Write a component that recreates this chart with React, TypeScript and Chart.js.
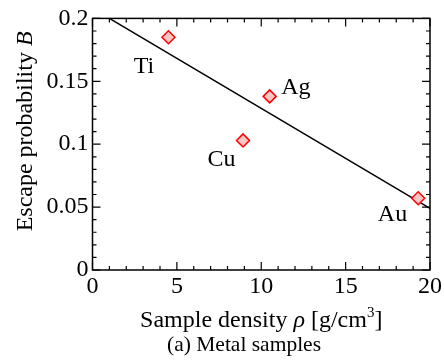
import React, { useEffect, useRef } from "react";
import { Chart, registerables } from "chart.js";

Chart.register(...registerables);

// ---- data ----
const elements = ["Ti", "Ag", "Cu", "Au"];
const density = [4.5, 10.5, 8.92, 19.3];
const escapeProb = [0.185, 0.138, 0.103, 0.057];
const fitX = [1, 20];
const fitY = [0.2, 0.049];
const labelX = [3.05, 12.05, 7.64, 17.78];
const labelY = [0.1565, 0.14, 0.083, 0.0387];
const xTicks = [0, 5, 10, 15, 20];
const yTicks = [0, 0.05, 0.1, 0.15, 0.2];

const FONT = "'Liberation Serif', 'Times New Roman', serif";

const framePlugin = {
  id: "frame",
  afterDatasetsDraw(chart: any) {
    const ctx = chart.ctx;
    const { left, right, top, bottom } = chart.chartArea;
    const xs = chart.scales.x;
    const ys = chart.scales.y;
    ctx.save();
    ctx.strokeStyle = "#000";
    ctx.lineWidth = 1.5;
    ctx.strokeRect(left, top, right - left, bottom - top);
    ctx.lineWidth = 1.2;
    ctx.beginPath();
    for (let v = 0; v <= 20; v += 1) {
      const px = xs.getPixelForValue(v);
      const len = v % 5 === 0 ? 8 : 4;
      ctx.moveTo(px, bottom);
      ctx.lineTo(px, bottom - len);
      ctx.moveTo(px, top);
      ctx.lineTo(px, top + len);
    }
    for (let i = 0; i <= 20; i += 1) {
      const py = ys.getPixelForValue(i / 100);
      const len = i % 5 === 0 ? 8 : 4;
      ctx.moveTo(left, py);
      ctx.lineTo(left + len, py);
      ctx.moveTo(right, py);
      ctx.lineTo(right - len, py);
    }
    ctx.stroke();

    // point labels
    ctx.fillStyle = "#000";
    ctx.font = `24px ${FONT}`;
    ctx.textAlign = "center";
    ctx.textBaseline = "alphabetic";
    elements.forEach((name, i) => {
      ctx.fillText(name, xs.getPixelForValue(labelX[i]), ys.getPixelForValue(labelY[i]));
    });

    // x axis title with italic rho and superscript
    const xParts: [string, string, number][] = [
      ["Sample density ", `24px ${FONT}`, 0],
      ["\u03c1", `italic 24px ${FONT}`, 0],
      [" [g/cm", `24px ${FONT}`, 0],
      ["3", `15px ${FONT}`, -10],
      ["]", `24px ${FONT}`, 0],
    ];
    ctx.textAlign = "left";
    let total = 0;
    xParts.forEach(([t, f]) => {
      ctx.font = f;
      total += ctx.measureText(t).width;
    });
    let cx = (left + right) / 2 - total / 2;
    const baseY = bottom + 57;
    xParts.forEach(([t, f, dy]) => {
      ctx.font = f;
      ctx.fillText(t, cx, baseY + dy);
      cx += ctx.measureText(t).width;
    });

    // y axis title
    const yParts: [string, string][] = [
      ["Escape probability ", `24px ${FONT}`],
      ["B", `italic 24px ${FONT}`],
    ];
    let ytotal = 0;
    yParts.forEach(([t, f]) => {
      ctx.font = f;
      ytotal += ctx.measureText(t).width;
    });
    ctx.save();
    ctx.translate(32, top + 113);
    ctx.rotate(-Math.PI / 2);
    let yx = -ytotal / 2;
    yParts.forEach(([t, f]) => {
      ctx.font = f;
      ctx.fillText(t, yx, 0);
      yx += ctx.measureText(t).width;
    });
    ctx.restore();

    // caption
    ctx.font = `21.5px ${FONT}`;
    ctx.textAlign = "center";
    ctx.fillText("(a) Metal samples", 244, 351);
    ctx.restore();
  },
};

export default function App() {
  const ref = useRef<HTMLCanvasElement>(null);
  useEffect(() => {
    if (!ref.current) return;
    const points = density.map((x, i) => ({ x, y: escapeProb[i] }));
    const line = fitX.map((x, i) => ({ x, y: fitY[i] }));
    const chart = new Chart(ref.current, {
      type: "scatter",
      data: {
        datasets: [
          {
            type: "line",
            data: line,
            borderColor: "#000",
            borderWidth: 1.5,
            pointRadius: 0,
            fill: false,
            order: 2,
          } as any,
          {
            data: points,
            pointStyle: "rectRot",
            pointRadius: 6.5,
            borderColor: "#ff0000",
            backgroundColor: "#f9c6c6",
            borderWidth: 1.5,
            order: 1,
          } as any,
        ],
      },
      options: {
        animation: false,
        responsive: false,
        layout: { padding: { top: 17, right: 12, left: 0, bottom: 0 } },
        plugins: {
          legend: { display: false },
          tooltip: { enabled: false },
        },
        scales: {
          x: {
            type: "linear",
            min: 0,
            max: 20,
            afterBuildTicks: (s: any) => {
              s.ticks = xTicks.map((v) => ({ value: v }));
            },
            ticks: {
              font: { family: FONT, size: 24 },
              color: "#000",
              padding: 2,
              maxRotation: 0,
              callback: (v: any) => String(v),
            },
            grid: { display: false, drawTicks: false },
            border: { display: false },
            afterFit: (s: any) => {
              s.height = 93;
            },
          },
          y: {
            type: "linear",
            min: 0,
            max: 0.2,
            afterBuildTicks: (s: any) => {
              s.ticks = yTicks.map((v) => ({ value: v }));
            },
            ticks: {
              font: { family: FONT, size: 24 },
              color: "#000",
              padding: 4,
              callback: (v: any) => String(v),
            },
            grid: { display: false, drawTicks: false },
            border: { display: false },
            afterFit: (s: any) => {
              s.width = 92.5;
            },
          },
        },
      } as any,
      plugins: [framePlugin],
    });
    return () => chart.destroy();
  }, []);
  return (
    <div style={{ position: "absolute", left: 0, top: 0, width: 444, height: 363, background: "#fff" }}>
      <canvas ref={ref} width={444} height={363} style={{ width: 444, height: 363 }} />
    </div>
  );
}
